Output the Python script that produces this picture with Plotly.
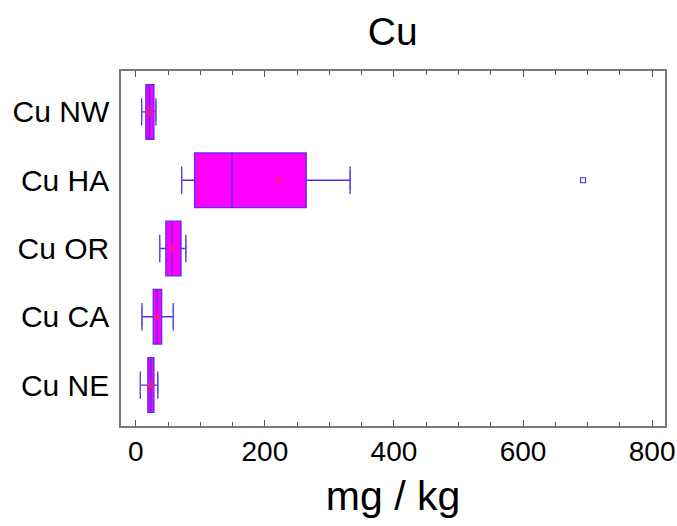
import plotly.graph_objects as go

categories = ["Cu NW", "Cu HA", "Cu OR", "Cu CA", "Cu NE"]
q1 = [15.5, 91, 46.5, 27, 18.6]
median = [21, 149, 56, 33, 23]
q3 = [28, 264, 70, 40, 28]
lowerfence = [9, 71, 37, 9.5, 7]
upperfence = [31, 332, 77.5, 58, 34]
means = [20, 222, 56, 33, 23]
outlier_cat = ["Cu HA"]
outlier_val = [693]

fill = "#FF00FF"
edge = "#5530E8"
whisk = "#5A5AE6"

fig = go.Figure()
fig.add_trace(go.Box(
    y=categories, q1=q1, median=median, q3=q3,
    lowerfence=lowerfence, upperfence=upperfence,
    orientation="h", fillcolor=fill,
    line=dict(color=edge, width=1.3),
    width=0.8, boxpoints=False, showlegend=False, hoverinfo="skip",
))
# whisker caps
fig.add_trace(go.Scatter(
    x=lowerfence + upperfence, y=categories + categories, mode="markers",
    marker=dict(symbol="line-ns", size=14, line=dict(color=whisk, width=1.2)),
    showlegend=False, hoverinfo="skip",
))
# means
fig.add_trace(go.Scatter(
    x=means, y=categories, mode="markers",
    marker=dict(symbol="cross-thin", size=5, line=dict(color="#FF2060", width=1.5)),
    showlegend=False, hoverinfo="skip",
))
# outlier
fig.add_trace(go.Scatter(
    x=outlier_val, y=outlier_cat, mode="markers",
    marker=dict(symbol="square-open", size=5, color=edge, line=dict(width=1.2)),
    showlegend=False, hoverinfo="skip",
))

fig.update_layout(
    width=677, height=526,
    margin=dict(l=121, r=12, t=71, b=100),
    paper_bgcolor="white", plot_bgcolor="white",
    font=dict(family="Liberation Sans, Arial, sans-serif", color="black"),
    title=dict(text="Cu", x=0.58, xanchor="center", y=0.94, yanchor="middle",
               font=dict(size=39)),
    xaxis=dict(range=[-23, 820], tickvals=[0, 200, 400, 600, 800],
               automargin=False,
               ticks="inside", ticklen=6, tickcolor="#555", mirror="ticks",
               minor=dict(dtick=50, ticks="inside", ticklen=4, tickcolor="#555"),
               showline=True, linecolor="#777", linewidth=1.5,
               showgrid=False, zeroline=False,
               tickfont=dict(size=28),
               title=dict(text="mg / kg", font=dict(size=41), standoff=15)),
    yaxis=dict(categoryorder="array", categoryarray=categories[::-1],
               range=[-0.6, 4.6], automargin=False,
               showline=True, linecolor="#777", linewidth=1.5, mirror=True,
               showgrid=False, zeroline=False, ticks="",
               tickfont=dict(size=30), ticklabelstandoff=4),
)

fig.write_html("out.html")
